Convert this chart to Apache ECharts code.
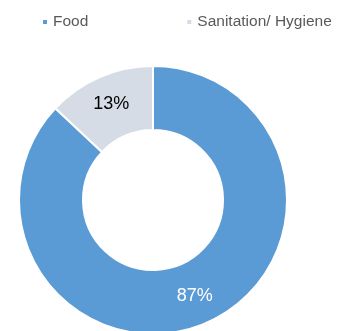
<!DOCTYPE html>
<html>
<head>
<meta charset="utf-8">
<style>
  html, body { margin: 0; padding: 0; background: #fff; }
  #chart { width: 344px; height: 331px; }
</style>
</head>
<body>
<div id="chart"></div>
<script src="https://cdn.jsdelivr.net/npm/echarts@6/dist/echarts.min.js"></script>
<script>
var categories = ['Food', 'Sanitation/ Hygiene'];
var values = [87, 13];
var colors = ['#5B9BD5', '#D6DCE5'];
var labelColors = ['#ffffff', '#000000'];

var chart = echarts.init(document.getElementById('chart'));
var option = {
  animation: false,
  legend: {
    data: categories,
    top: 9,
    left: 36,
    itemWidth: 6,
    itemHeight: 6,
    itemGap: 97,
    icon: 'rect',
    textStyle: { fontFamily: 'Liberation Sans', fontSize: 15.5, color: '#595959' }
  },
  series: [{
    type: 'pie',
    center: [153, 200],
    radius: [70, 134],
    startAngle: 90,
    clockwise: true,
    itemStyle: { borderColor: '#fff', borderWidth: 2 },
    label: {
      position: 'inside',
      fontFamily: 'Liberation Sans',
      fontSize: 18,
      formatter: '{c}%'
    },
    labelLine: { show: false },
    data: categories.map(function (c, i) {
      return {
        name: c,
        value: values[i],
        itemStyle: { color: colors[i] },
        label: { color: labelColors[i] }
      };
    })
  }]
};
chart.setOption(option);
</script>
</body>
</html>
